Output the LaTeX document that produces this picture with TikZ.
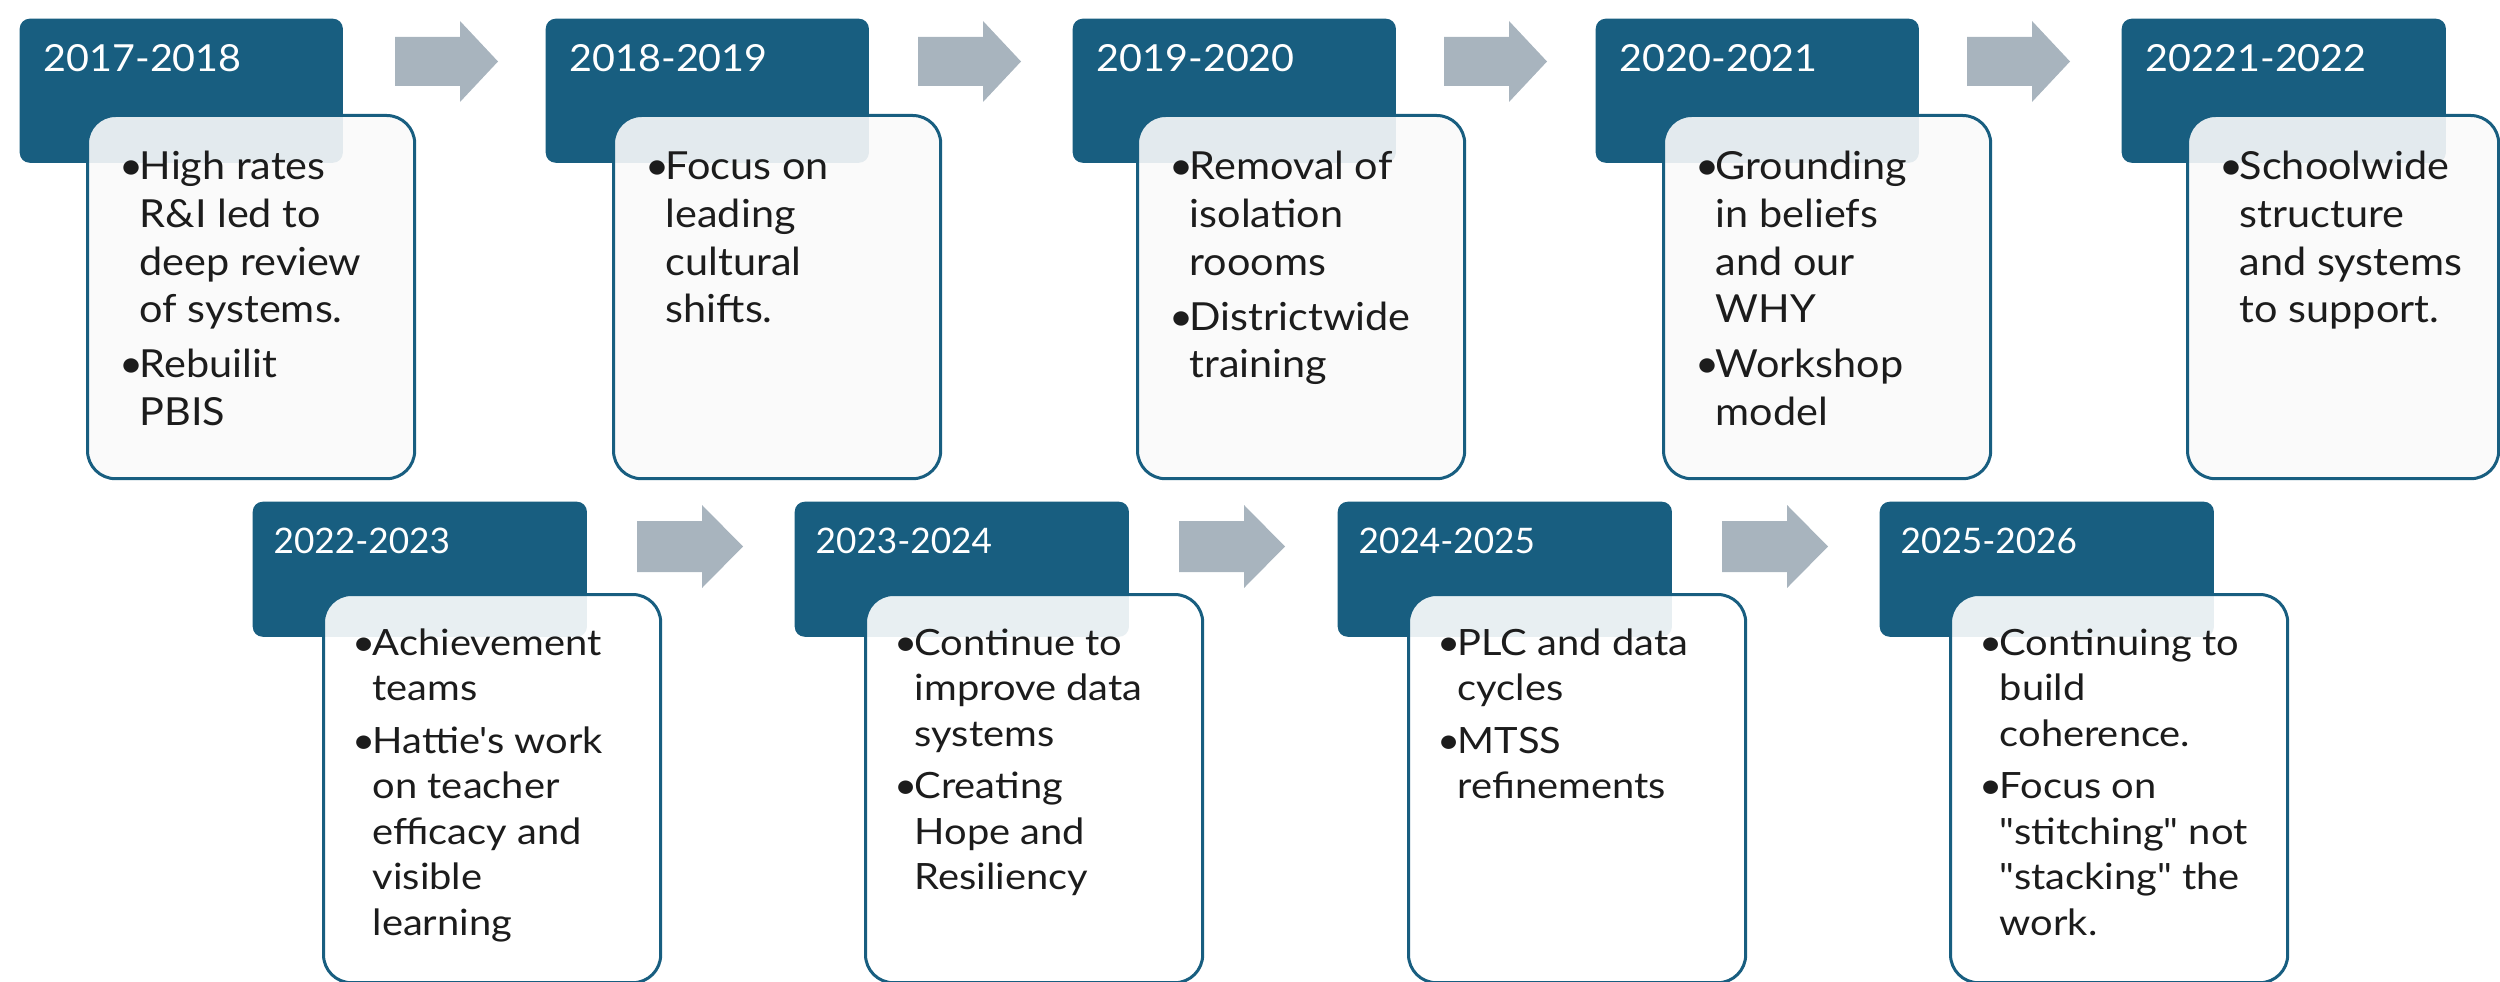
\documentclass[tikz,border=0pt]{standalone}
\usepackage{fontspec}
\setmainfont{Lato}
\newfontfamily\topf{Lato}[FakeStretch=1.07]
\newfontfamily\botf{Lato}[FakeStretch=1.1]
\newfontfamily\yrtf{Lato}[FakeStretch=1.06]
\definecolor{hdr}{RGB}{24,94,128}
\definecolor{arr}{RGB}{168,180,190}
\definecolor{boxfill}{RGB}{250,250,250}
\definecolor{txtc}{RGB}{28,28,28}
\newcommand{\bitem}[1]{\par\noindent\hangindent=0.2cm\hangafter=1\makebox[0.2cm][l]{\textbullet}#1\par}
\newcommand{\topbody}[1]{\begin{minipage}[t]{3.2cm}\topf\fontsize{11}{13.55}\selectfont\rightskip=0pt plus 1fil\hyphenpenalty=10000\setlength{\parskip}{2.1pt}#1\end{minipage}}
\newcommand{\botbody}[1]{\begin{minipage}[t]{3.2cm}\botf\fontsize{10.3}{12.95}\selectfont\rightskip=0pt plus 1fil\hyphenpenalty=10000\setlength{\parskip}{2pt}#1\end{minipage}}
\begin{document}
\begin{tikzpicture}[x=0.01cm,y=-0.01cm,
  hdrT/.style={fill=hdr, rounded corners=0.1cm, anchor=north west, inner sep=0pt, minimum width=3.23cm, minimum height=1.44cm},
  hdrB/.style={fill=hdr, rounded corners=0.1cm, anchor=north west, inner sep=0pt, minimum width=3.34cm, minimum height=1.35cm},
  cardT/.style={draw=hdr, line width=0.03cm, fill=boxfill, fill opacity=0.9, rounded corners=0.28cm, anchor=north west, inner sep=0pt, minimum width=3.27cm, minimum height=3.63cm},
  cardB/.style={draw=hdr, line width=0.03cm, fill=white, fill opacity=0.9, rounded corners=0.28cm, anchor=north west, inner sep=0pt, minimum width=3.37cm, minimum height=3.88cm},
  yrT/.style={anchor=base west, inner sep=0pt, text=white, font=\yrtf\fontsize{10.6}{12}\selectfont},
  yrB/.style={anchor=base west, inner sep=0pt, text=white, font=\fontsize{10}{12}\selectfont},
  bodytxt/.style={anchor=base west, inner sep=0pt, text=txtc},
  blockarrow/.style={fill=arr}
]
\useasboundingbox (0,0) rectangle (2500,982);

% ---------- top row arrows ----------
\foreach \ax in {395,918,1444,1967}{
  \fill[blockarrow] (\ax,37) -- ({\ax+65},37) -- ({\ax+65},21) -- ({\ax+103},61.5) -- ({\ax+65},102) -- ({\ax+65},86) -- (\ax,86) -- cycle;
}
% ---------- bottom row arrows ----------
\foreach \ax in {637,1179,1722}{
  \fill[blockarrow] (\ax,521) -- ({\ax+65},521) -- ({\ax+65},505) -- ({\ax+106},546.5) -- ({\ax+65},588) -- ({\ax+65},572) -- (\ax,572) -- cycle;
}

% ---------- top row ----------
\node[hdrT] (h1) at (19,18) {};
\node[cardT] (c1) at (86,114) {};
\node[yrT] (y1) at (43,72) {2017-2018};
\node[bodytxt] (b1) at (119,180) {\topbody{\bitem{High rates\\R\&I led to\\deep review\\of systems.}\bitem{Rebuilit\\PBIS}}};

\node[hdrT] (h2) at (545,18) {};
\node[cardT] (c2) at (612,114) {};
\node[yrT] (y2) at (569,72) {2018-2019};
\node[bodytxt] (b2) at (645,180) {\topbody{\bitem{Focus on\\leading\\cultural\\shifts.}}};

\node[hdrT] (h3) at (1072,18) {};
\node[cardT] (c3) at (1136,114) {};
\node[yrT] (y3) at (1096,72) {2019-2020};
\node[bodytxt] (b3) at (1169,180) {\topbody{\bitem{Removal of\\isolation\\roooms}\bitem{Districtwide\\training}}};

\node[hdrT] (h4) at (1595,18) {};
\node[cardT] (c4) at (1662,114) {};
\node[yrT] (y4) at (1619,72) {2020-2021};
\node[bodytxt] (b4) at (1695,180) {\topbody{\bitem{Grounding\\in beliefs\\and our\\WHY}\bitem{Workshop\\model}}};

\node[hdrT, minimum width=3.24cm] (h5) at (2121,18) {};
\node[cardT, minimum width=3.11cm] (c5) at (2186,114) {};
\node[yrT] (y5) at (2145,72) {20221-2022};
\node[bodytxt] (b5) at (2219,180) {\topbody{\bitem{Schoolwide\\structure\\and systems\\to support.}}};

% ---------- bottom row ----------
\node[hdrB] (h6) at (252,501) {};
\node[cardB] (c6) at (322,593) {};
\node[yrB] (y6) at (273,553) {2022-2023};
\node[bodytxt] (b6) at (352,655) {\botbody{\bitem{Achievement\\teams}\bitem{Hattie's work\\on teacher\\efficacy and\\visible\\learning}}};

\node[hdrB] (h7) at (794,501) {};
\node[cardB] (c7) at (864,593) {};
\node[yrB] (y7) at (815,553) {2023-2024};
\node[bodytxt] (b7) at (894,655) {\botbody{\bitem{Continue to\\improve data\\systems}\bitem{Creating\\Hope and\\Resiliency}}};

\node[hdrB] (h8) at (1337,501) {};
\node[cardB] (c8) at (1407,593) {};
\node[yrB] (y8) at (1358,553) {2024-2025};
\node[bodytxt] (b8) at (1437,655) {\botbody{\bitem{PLC and data\\cycles}\bitem{MTSS\\refinements}}};

\node[hdrB] (h9) at (1879,501) {};
\node[cardB] (c9) at (1949,593) {};
\node[yrB] (y9) at (1900,553) {2025-2026};
\node[bodytxt] (b9) at (1979,655) {\botbody{\bitem{Continuing to\\build\\coherence.}\bitem{Focus on\\"stitching" not\\"stacking" the\\work.}}};
\end{tikzpicture}
\end{document}
